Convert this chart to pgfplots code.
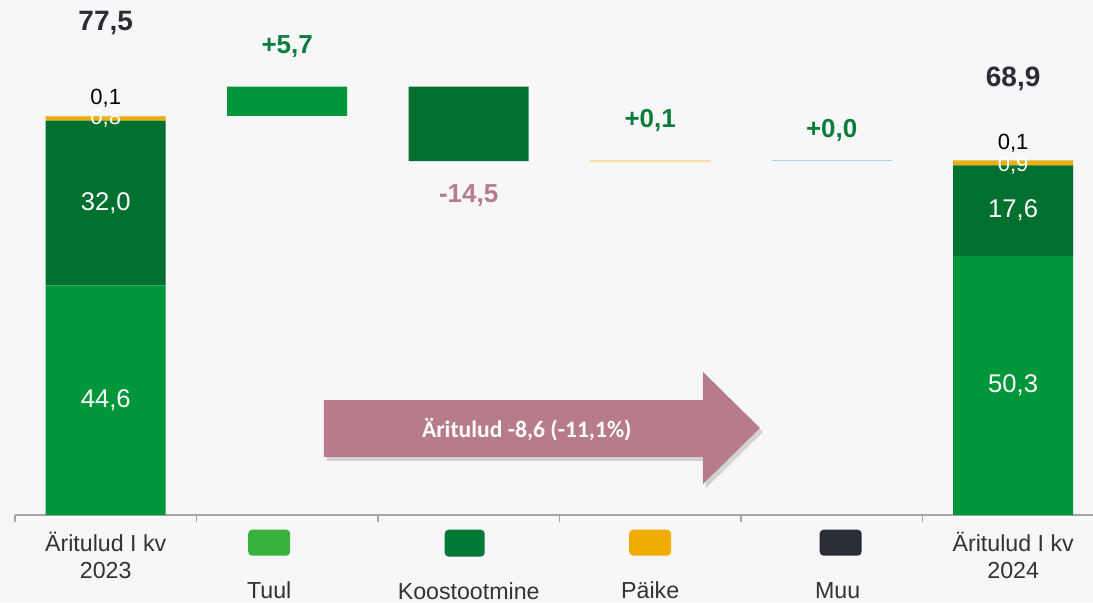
\documentclass[border=0pt]{standalone}
\usepackage{pgfplots}
\pgfplotsset{compat=1.18}
\usepackage{fontspec}
\setmainfont{Liberation Sans}
\newfontfamily\calib{Carlito}

\definecolor{bg}{HTML}{F7F7F9}
\definecolor{tuul}{HTML}{00973A}
\definecolor{tuullg}{HTML}{38B23A}
\definecolor{koost}{HTML}{00702E}
\definecolor{koostlg}{HTML}{007A36}
\definecolor{paike}{HTML}{F0AD00}
\definecolor{paikelt}{HTML}{F6DD9A}
\definecolor{muu}{HTML}{A8D2DE}
\definecolor{muulg}{HTML}{2A2D35}
\definecolor{axisgray}{HTML}{A6A6A6}
\definecolor{txtgray}{HTML}{333333}
\definecolor{poslbl}{HTML}{0B7D3A}
\definecolor{neglbl}{HTML}{B77C8B}
\definecolor{totlbl}{HTML}{2B2D36}
\definecolor{arrowc}{HTML}{B87B8B}

\newsavebox\lgdA \newsavebox\lgdB \newsavebox\lgdC \newsavebox\lgdD

\pgfplotsset{frame/.style={
    at={(0,0)}, anchor=south west,
    scale only axis, width=539pt, height=257.5pt,
    xmin=-0.5, xmax=5.44, ymin=0, ymax=100, clip=false}}

\begin{document}
\sbox\lgdA{\tikz\fill[tuullg,rounded corners=2pt] (0,0) rectangle (21pt,13pt);}%
\sbox\lgdB{\tikz\fill[koostlg,rounded corners=2pt] (0,0) rectangle (20pt,13.5pt);}%
\sbox\lgdC{\tikz\fill[paike,rounded corners=2pt] (0,0) rectangle (21pt,13pt);}%
\sbox\lgdD{\tikz\fill[muulg,rounded corners=2pt] (0,0) rectangle (21pt,13pt);}%
\begin{tikzpicture}
\fill[bg] (-7.5pt,-43.5pt) rectangle (539pt,257.5pt);
\path[use as bounding box] (-7.5pt,-43.5pt) rectangle (539pt,257.5pt);
\begin{axis}[
    frame,
    ybar stacked, bar width=60pt,
    axis y line=none, axis x line*=bottom,
    x axis line style={draw=axisgray, line width=0.75pt},
    xtick={0,...,5}, major tick length=0pt,
    minor xtick={-0.5,0.5,...,4.5}, minor tick length=3.5pt,
    tick align=outside,
    every minor tick/.append style={draw=axisgray, line width=0.75pt},
    xticklabels={
        {\rule{0pt}{11pt}Äritulud I kv\\2023},
        {\usebox\lgdA\hspace*{18pt}\\[8pt]Tuul\hspace*{18pt}},
        {\usebox\lgdB\hspace*{4pt}\\[8pt]Koostootmine},
        {\usebox\lgdC\\[8pt]Päike},
        {\hspace*{9pt}\usebox\lgdD\\[8pt]\hspace*{6pt}Muu},
        {\rule{0pt}{11pt}Äritulud I kv\\2024}},
    xticklabel style={align=center, text=txtgray,
        font=\fontsize{11.6}{13.5}\selectfont, yshift=-3.8pt},
]
% invisible base of the floating bars
\addplot[draw=none, fill=none] coordinates {(0,0) (1,77.5) (2,68.7) (3,68.7) (4,68.8) (5,0)};
% Tuul
\addplot[draw=none, fill=tuul] coordinates {(0,44.6) (1,5.7) (2,0) (3,0) (4,0) (5,50.3)};
% Koostootmine
\addplot[draw=none, fill=koost] coordinates {(0,32.0) (1,0) (2,14.5) (3,0) (4,0) (5,17.6)};
% Paike
\addplot[draw=none, fill=paike] coordinates {(0,0.8) (1,0) (2,0) (3,0) (4,0) (5,0.9)};
% Muu
\addplot[draw=none, fill=muu] coordinates {(0,0.1) (1,0) (2,0) (3,0) (4,0) (5,0.1)};
\end{axis}

% same frame, not stacked: thin change bars, labels and the arrow on top
\begin{axis}[frame, hide axis]
\addplot[sharp plot, no marks, draw=paikelt, line width=1.2pt]
    coordinates {(2.67,68.75) (3.33,68.75)};
\addplot[sharp plot, no marks, draw=muu, line width=0.6pt]
    coordinates {(3.67,68.85) (4.33,68.85)};

% value labels
\node[text=white, font=\fontsize{12.8}{15}\selectfont] at (axis cs:0,22.3) {44,6};
\node[text=white, font=\fontsize{12.8}{15}\selectfont] at (axis cs:0,60.6) {32,0};
\node[text=white, font=\fontsize{12.8}{15}\selectfont] at (axis cs:5,25.2) {50,3};
\node[text=white, font=\fontsize{12.8}{15}\selectfont] at (axis cs:5,59.1) {17,6};
\node[text=white, font=\fontsize{11}{13}\selectfont] at (axis cs:0,77.0) {0,8};
\node[text=black, font=\fontsize{11}{13}\selectfont] at (axis cs:0,81.0) {0,1};
\node[text=white, font=\fontsize{11}{13}\selectfont] at (axis cs:5,68.0) {0,9};
\node[text=black, font=\fontsize{11}{13}\selectfont] at (axis cs:5,72.2) {0,1};
\node[text=totlbl, font=\bfseries\fontsize{14}{16}\selectfont] at (axis cs:0,95.6) {77,5};
\node[text=totlbl, font=\bfseries\fontsize{14}{16}\selectfont] at (axis cs:5,84.6) {68,9};
\node[text=poslbl, font=\bfseries\fontsize{13}{15}\selectfont] at (axis cs:1,91.0) {+5,7};
\node[text=neglbl, font=\bfseries\fontsize{13}{15}\selectfont] at (axis cs:2,62.1) {-14,5};
\node[text=poslbl, font=\bfseries\fontsize{13}{15}\selectfont] at (axis cs:3,76.6) {+0,1};
\node[text=poslbl, font=\bfseries\fontsize{13}{15}\selectfont] at (axis cs:4,74.7) {+0,0};

% summary arrow
\fill[black, opacity=0.15, xshift=1.5pt, yshift=-2pt]
    (axis cs:1.2025,22.3) -- (axis cs:3.2906,22.3) -- (axis cs:3.2906,27.8)
    -- (axis cs:3.6047,16.9) -- (axis cs:3.2906,6.0) -- (axis cs:3.2906,11.3)
    -- (axis cs:1.2025,11.3) -- cycle;
\fill[arrowc]
    (axis cs:1.2025,22.3) -- (axis cs:3.2906,22.3) -- (axis cs:3.2906,27.8)
    -- (axis cs:3.6047,16.9) -- (axis cs:3.2906,6.0) -- (axis cs:3.2906,11.3)
    -- (axis cs:1.2025,11.3) -- cycle;
\node[text=white, font=\calib\bfseries\fontsize{11.8}{13}\selectfont]
    at (axis cs:2.32,16.5) {Äritulud -8,6 (-11,1\%)};
\end{axis}
\end{tikzpicture}
\end{document}
